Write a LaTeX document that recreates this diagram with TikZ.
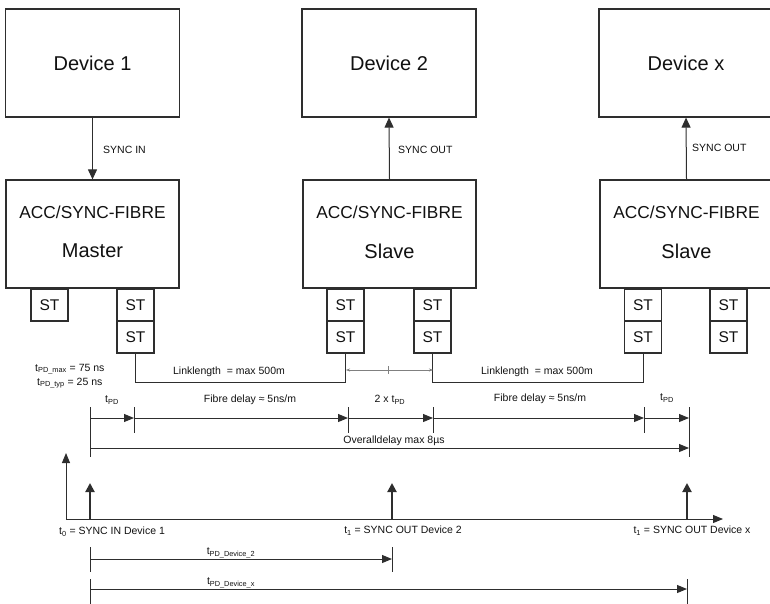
\documentclass[tikz,border=0pt]{standalone}
\usepackage{fontspec}
\setmainfont{Liberation Sans}
\usetikzlibrary{arrows.meta}
\definecolor{lc}{HTML}{2E2E2E}
\definecolor{tc}{HTML}{111111}
\newcommand\setfs[1]{\fontsize{#1}{#1}\selectfont}
\begin{document}
\begin{tikzpicture}[x=1pt,y=-1pt,
  box/.style={draw=lc,line width=1.2pt,inner sep=0pt,fill=white,text=tc},
  devbox/.style={box,minimum width=174pt,minimum height=108pt,font=\setfs{20}},
  accbox/.style={box,minimum width=173pt,minimum height=108pt},
  stbox/.style={box,minimum width=37pt,minimum height=32pt,font=\setfs{15.5}},
  lbl/.style={inner sep=0pt,text=tc,font=\setfs{10.5}},
  big/.style={inner sep=0pt,text=tc},
  sarr/.style={draw=lc,line width=1pt,-{Triangle[length=10pt,width=9pt]}},
  tarr/.style={draw=lc,line width=1pt,-{Triangle[length=10pt,width=8pt]}},
  tickline/.style={draw=lc,line width=1pt},
  cable/.style={draw=lc,line width=1pt},
  pulse/.style={draw=lc,line width=2pt,-{Triangle[length=9pt,width=9pt]}},
  dimline/.style={draw=gray,line width=0.5pt,-{Stealth[length=4pt,width=3pt]}}
]
\useasboundingbox (0,0) rectangle (770,604);

% devices
\node[devbox] (dev1) at (92.5,63) {Device 1};
\node[devbox] (dev2) at (389,63) {Device 2};
\node[devbox] (devx) at (686,63) {Device x};

% ACC boxes
\node[accbox] (acc1) at (92.5,234) {};
\node[accbox] (acc2) at (389.5,234) {};
\node[accbox] (accx) at (686.5,234) {};
\node[big,font=\setfs{17.3}] (acc1t) at (92.5,212) {ACC/SYNC-FIBRE};
\node[big,font=\setfs{20}] (acc1m) at (92.5,251) {Master};
\node[big,font=\setfs{17.3}] (acc2t) at (389.5,212) {ACC/SYNC-FIBRE};
\node[big,font=\setfs{20}] (acc2m) at (389.5,251) {Slave};
\node[big,font=\setfs{17.3}] (accxt) at (686.5,212) {ACC/SYNC-FIBRE};
\node[big,font=\setfs{20}] (accxm) at (686.5,251) {Slave};

% sync arrows
\draw[sarr] (dev1.south) -- (acc1.north);
\draw[sarr] (acc2.north) -- (dev2.south);
\draw[sarr] (accx.north) -- (devx.south);
\node[lbl,anchor=west] (l1) at (103,150) {SYNC IN};
\node[lbl,anchor=west] (l2) at (398,150) {SYNC OUT};
\node[lbl,anchor=west] (l3) at (692,148) {SYNC OUT};

% ST boxes
\node[stbox] (st1a) at (49.5,305) {ST};
\node[stbox] (st1b) at (135.5,305) {ST};
\node[stbox] (st1c) at (135.5,337) {ST};
\node[stbox] (st2a) at (345.5,305) {ST};
\node[stbox] (st2b) at (345.5,337) {ST};
\node[stbox] (st2c) at (432.5,305) {ST};
\node[stbox] (st2d) at (432.5,337) {ST};
\node[stbox] (st3a) at (643,305) {ST};
\node[stbox] (st3b) at (643,337) {ST};
\node[stbox] (st3c) at (728.5,305) {ST};
\node[stbox] (st3d) at (728.5,337) {ST};

% cables
\draw[cable] (st1c.south) -- ++(0,29) -| (st2b.south);
\draw[cable] (st2d.south) -- ++(0,29) -| (st3b.south);
\node[lbl] (ll1) at (229,372) {Linklength\ \ = max 500m};
\node[lbl] (ll2) at (537,372) {Linklength\ \ = max 500m};

% small dimension between slave connectors
\coordinate (dm) at (388,370);
\coordinate (dl) at (346,370);
\coordinate (dr) at (433,370);
\draw[dimline] (dm) -- (dl);
\draw[dimline] (dm) -- (dr);
\draw[gray,line width=0.5pt] (388,366) -- (388,374);

% tPD info
\node[lbl,anchor=west] (tpdmax) at (35,369) {t\textsubscript{PD\_max} = 75 ns};
\node[lbl,anchor=west] (tpdtyp) at (37,383) {t\textsubscript{PD\_typ} = 25 ns};

% timing row
\coordinate (ta0) at (90,418);
\coordinate (ta1) at (134,418);
\coordinate (ta2) at (348,418);
\coordinate (ta3) at (433,418);
\coordinate (ta4) at (644,418);
\coordinate (ta5) at (689,418);
\coordinate (ov0) at (90,448);
\coordinate (ov1) at (689,448);
\draw[tickline] (90,407) -- (90,457);
\draw[tickline] (134,407) -- (134,433);
\draw[tickline] (348,407) -- (348,433);
\draw[tickline] (433,407) -- (433,433);
\draw[tickline] (644,407) -- (644,433);
\draw[tickline] (689,407) -- (689,457);
\draw[tarr] (ta0) -- (ta1);
\draw[tarr] (ta1) -- (ta2);
\draw[tarr] (ta2) -- (ta3);
\draw[tarr] (ta3) -- (ta4);
\draw[tarr] (ta4) -- (ta5);
\draw[tarr] (ov0) -- (ov1);
\node[lbl] (tl1) at (112,400) {t\textsubscript{PD}};
\node[lbl] (tl2) at (250,400) {Fibre delay ≈ 5ns/m};
\node[lbl] (tl3) at (390,400) {2 x t\textsubscript{PD}};
\node[lbl] (tl4) at (540,399) {Fibre delay ≈ 5ns/m};
\node[lbl] (tl5) at (667,398) {t\textsubscript{PD}};
\node[lbl] (tl6) at (394,441) {Overalldelay max 8µs};

% time axis
\coordinate (ay) at (66,453);
\coordinate (ax) at (723,519);
\draw[draw=lc,line width=1pt,{Triangle[length=10pt,width=8pt]}-{Triangle[length=10pt,width=8pt]}] (ay) |- (ax);
\coordinate (p0) at (90,519);
\coordinate (p1) at (392,519);
\coordinate (p2) at (687,519);
\draw[pulse] (p0) -- ++(0,-36);
\draw[pulse] (p1) -- ++(0,-36);
\draw[pulse] (p2) -- ++(0,-36);
\node[lbl] (b1) at (112,532) {t\textsubscript{0} = SYNC IN Device 1};
\node[lbl] (b2) at (403,531) {t\textsubscript{1} = SYNC OUT Device 2};
\node[lbl] (b3) at (692,531) {t\textsubscript{1} = SYNC OUT Device x};

% bottom propagation arrows
\draw[tickline] (90,547) -- (90,572);
\draw[tickline] (392,547) -- (392,572);
\coordinate (d2a) at (90,559);
\coordinate (d2b) at (392,559);
\draw[tarr] (d2a) -- (d2b);
\node[lbl] (d2l) at (231,553) {t\textsubscript{PD\_Device\_2}};
\draw[tickline] (90,579) -- (90,606);
\draw[tickline] (687,579) -- (687,606);
\coordinate (dxa) at (90,589);
\coordinate (dxb) at (687,589);
\draw[tarr] (dxa) -- (dxb);
\node[lbl] (dxl) at (231,583) {t\textsubscript{PD\_Device\_x}};
\end{tikzpicture}
\end{document}
